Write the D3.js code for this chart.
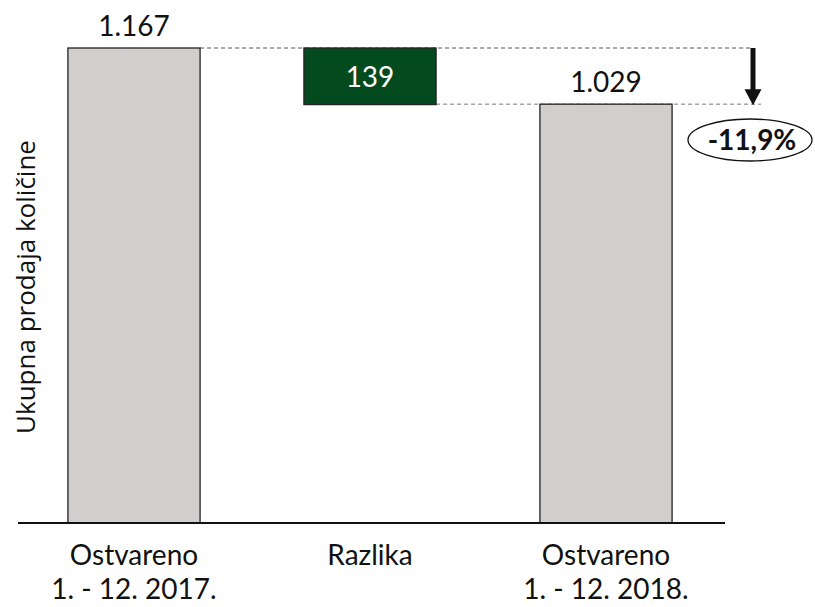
<!DOCTYPE html>
<html><head><meta charset="utf-8">
<script src="https://cdn.jsdelivr.net/npm/d3@7"></script>
<style>body{margin:0;background:#fff;} text{font-family:Lato,"Liberation Sans",sans-serif;}</style>
</head><body>
<svg id="c" width="815" height="607"></svg>
<script>
const categories = ["c2017", "razlika", "c2018"];
const categoryLines = [["Ostvareno", "1. - 12. 2017."], ["Razlika"], ["Ostvareno", "1. - 12. 2018."]];
const totals = [1167, null, 1029];
const difference = 139;
const valueLabels = ["1.167", "139", "1.029"];
const changeLabel = "-11,9%";
const yTitle = "Ukupna prodaja količine";

(function () {
const svg = d3.select("#c");
const x = d3.scaleBand().domain(categories).range([16, 724]).paddingInner(0.44).paddingOuter(0.22);
const y = d3.scaleLinear().domain([0, 1167]).range([523, 48]);
const bw = x.bandwidth();

const barsData = categories.map((c, i) => {
  if (totals[i] != null) return {c, y0: 0, y1: totals[i], total: true, label: valueLabels[i]};
  return {c, y0: totals[0] - difference, y1: totals[0], total: false, label: valueLabels[i]};
});

const yTop = y(totals[0]), yLow = y(totals[2]);
const arrowX = 753;
svg.append("line").attr("x1", x("c2017") + bw).attr("x2", arrowX).attr("y1", yTop).attr("y2", yTop)
  .attr("stroke", "#555").attr("stroke-width", 1).attr("stroke-dasharray", "4,3");
svg.append("line").attr("x1", x("razlika") + bw).attr("x2", 761).attr("y1", yLow).attr("y2", yLow)
  .attr("stroke", "#777").attr("stroke-width", 1).attr("stroke-dasharray", "4,3");

svg.selectAll("rect.bar").data(barsData).join("rect").attr("class", "bar")
  .attr("x", d => x(d.c)).attr("width", bw)
  .attr("y", d => y(d.y1)).attr("height", d => y(d.y0) - y(d.y1))
  .attr("fill", d => d.total ? "#d0cfce" : "#034a1e")
  .attr("stroke", "#222").attr("stroke-width", 1.3);

svg.selectAll("text.val").data(barsData).join("text").attr("class", "val")
  .attr("x", d => x(d.c) + bw / 2)
  .attr("y", d => d.total ? y(d.y1) - 12 : (y(d.y0) + y(d.y1)) / 2 + 11)
  .attr("text-anchor", "middle").attr("font-size", 28)
  .attr("fill", d => d.total ? "#111" : "#fff").text(d => d.label);

svg.append("line").attr("x1", 18).attr("x2", 725).attr("y1", y(0)).attr("y2", y(0))
  .attr("stroke", "#111").attr("stroke-width", 2);

categories.forEach((c, i) => {
  categoryLines[i].forEach((t, j) => {
    svg.append("text").attr("x", x(c) + bw / 2).attr("y", 565 + j * 34)
      .attr("text-anchor", "middle").attr("font-size", 28).attr("fill", "#111").text(t);
  });
});

svg.append("text").attr("transform", "translate(35,287) rotate(-90)")
  .attr("text-anchor", "middle").attr("font-size", 26).attr("fill", "#111")
  .style("font-family", "'Open Sans', sans-serif").text(yTitle);

svg.append("line").attr("x1", arrowX).attr("x2", arrowX).attr("y1", yTop).attr("y2", yLow - 14)
  .attr("stroke", "#111").attr("stroke-width", 5);
svg.append("path").attr("d", `M${arrowX - 8.5},${yLow - 15} L${arrowX + 8.5},${yLow - 15} L${arrowX},${yLow + 1} Z`).attr("fill", "#111");

svg.append("ellipse").attr("cx", 750).attr("cy", 140).attr("rx", 62).attr("ry", 21)
  .attr("fill", "#fff").attr("stroke", "#111").attr("stroke-width", 1.3);
svg.append("text").attr("x", 752).attr("y", 150).attr("text-anchor", "middle")
  .attr("font-size", 28).attr("font-weight", "bold").attr("fill", "#111").text(changeLabel);
})();
</script>
</body></html>
